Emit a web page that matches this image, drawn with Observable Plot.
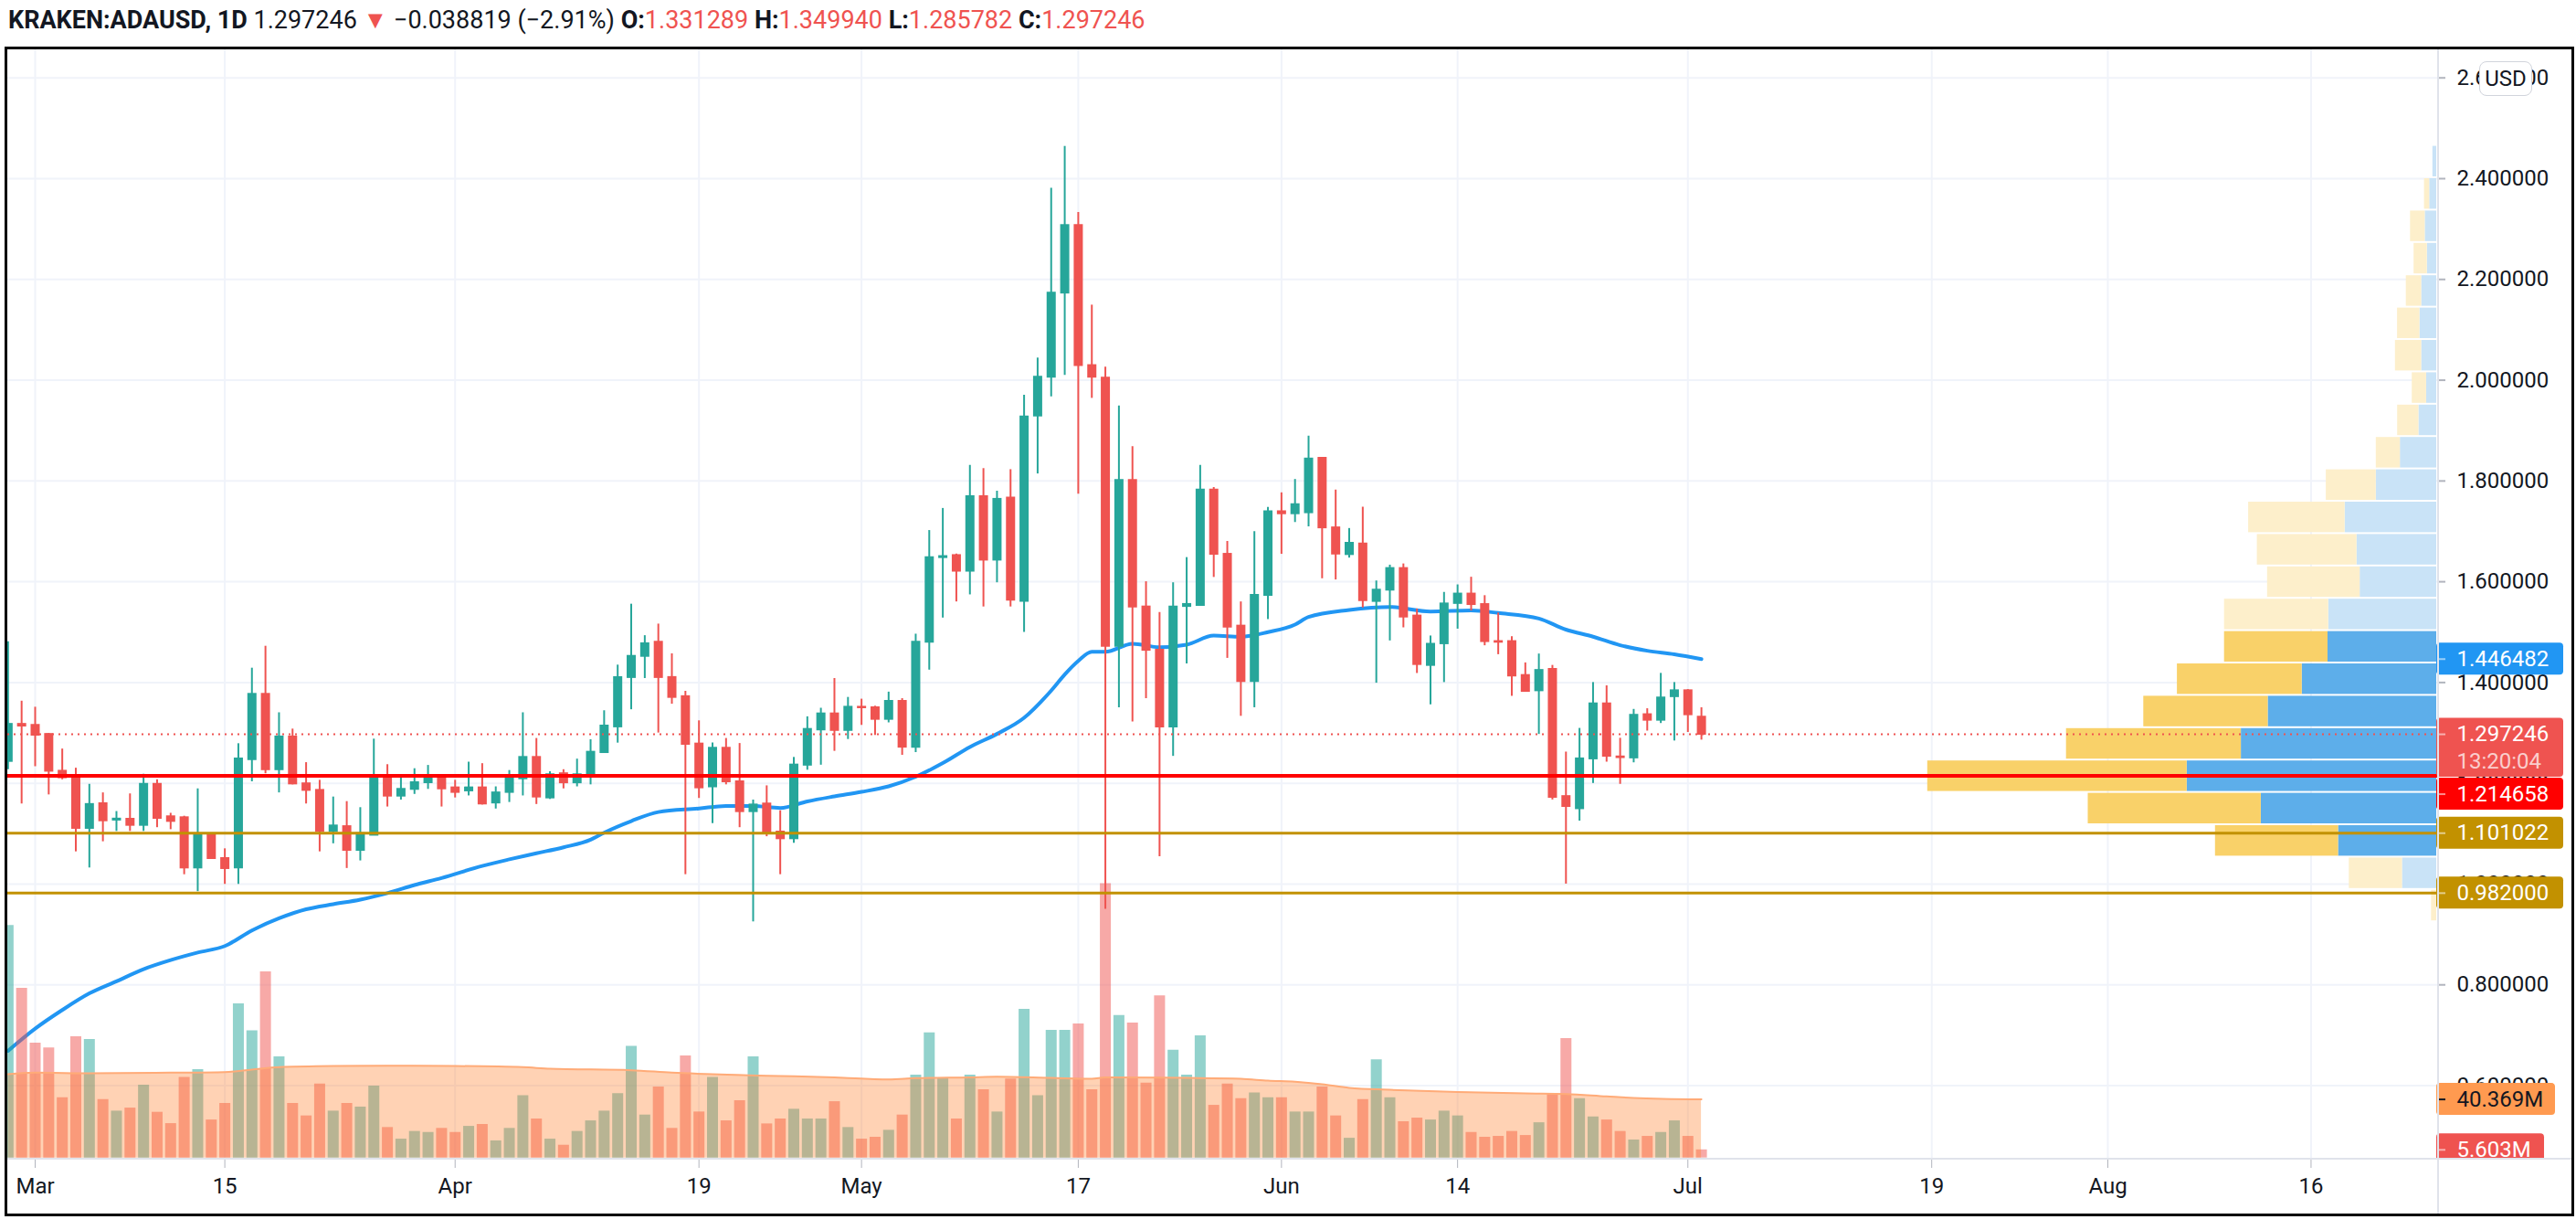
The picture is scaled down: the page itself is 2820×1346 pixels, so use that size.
<!DOCTYPE html>
<html><head><meta charset="utf-8">
<script src="https://cdn.jsdelivr.net/npm/d3@7"></script>
<script src="https://cdn.jsdelivr.net/npm/@observablehq/plot@0.6"></script>
<style>
html,body{margin:0;padding:0;background:#fff;width:2820px;height:1346px;overflow:hidden;}
body{font-family:Roboto,"Noto Sans",sans-serif;color:#131722;}
#header{position:absolute;left:9px;top:5px;font-size:27px;line-height:34px;white-space:nowrap;color:#131722}
#header b{font-weight:700}
#header .r{color:#ef5350}
#frame{position:absolute;left:5px;top:51px;width:2807px;height:1274px;border:3px solid #000;overflow:hidden;background:#fff}
#frame svg{position:absolute;left:0;top:0;background:transparent !important;overflow:hidden !important;max-width:none !important}
.sep{position:absolute;background:#e0e3eb}
#usd{position:absolute;left:2706px;top:13px;width:56px;height:36px;border:1.5px solid #d1d4dc;border-radius:8px;background:#fff;font-size:24px;line-height:36px;text-align:center;color:#131722}
</style></head><body>
<div id="header"></div>
<div id="frame"></div>
<script>
// ---------------- data ----------------
const symbol = "KRAKEN:ADAUSD";
const interval = "1D";
const startDate = "2021-02-27";
const open = [1.2435,1.317,
1.315,1.297,1.224,1.213,1.1106,1.1595,1.127,1.1287,1.1166,1.198,1.1336,1.1317,1.032,1.0984,1.0507,1.032,1.247,1.3766,1.227,1.292,1.199,1.186,1.1045,1.114,1.067,1.097,1.213,1.1746,1.188,1.2012,1.212,
1.191,1.185,1.191,1.161,1.182,1.209,1.2514,1.171,1.219,1.201,1.217,1.261,1.312,1.41,1.452,1.48,1.41,1.372,1.278,1.193,1.2696,1.203,1.1438,1.159,1.1033,1.09,1.236,1.306,1.3378,1.305,
1.351,1.350,1.327,1.3626,1.2717,1.480,1.648,1.652,1.621,1.769,1.643,1.766,1.561,1.929,2.006,2.173,2.307,2.029,2.004,1.4717,1.801,1.550,1.464,1.312,1.551,1.553,1.782,1.6545,1.512,1.402,1.573,
1.739,1.735,1.737,1.845,1.707,1.654,1.675,1.561,1.5834,1.6263,1.532,1.434,1.477,1.557,1.5756,1.5548,1.4813,1.4813,1.414,1.3837,1.426,1.1737,1.1496,1.2485,1.3577,1.2524,1.2504,1.3362,1.3252,1.372,
1.3837,1.331289];
const high = [1.481,1.363,
1.351,1.299,1.268,1.230,1.198,1.181,1.144,1.179,1.218,1.207,1.1405,1.1347,1.189,1.100,1.070,1.2786,1.4285,1.472,1.340,1.3076,1.241,1.206,1.1728,1.1637,1.1517,1.2877,1.237,1.216,1.229,1.2355,1.214,
1.206,1.242,1.239,1.193,1.2254,1.340,1.289,1.223,1.227,1.248,1.2865,1.344,1.4346,1.5555,1.493,1.516,1.457,1.3826,1.324,1.28,1.289,1.279,1.1668,1.195,1.1455,1.2514,1.332,1.349,1.408,1.3705,
1.367,1.353,1.381,1.368,1.496,1.7016,1.7455,1.655,1.831,1.8246,1.7797,1.8225,1.970,2.044,2.381,2.464,2.333,2.149,2.026,1.9487,1.868,1.600,1.539,1.598,1.648,1.831,1.787,1.680,1.560,1.6995,1.7476,
1.7765,1.803,1.889,1.846,1.782,1.7057,1.748,1.6016,1.633,1.6354,1.546,1.4924,1.5789,1.5938,1.609,1.5724,1.538,1.491,1.439,1.4566,1.434,1.262,1.309,1.4,1.3935,1.2894,1.3467,1.348,1.4182,1.4,
1.386,1.34994];
const low = [1.227,1.159,
1.233,1.177,1.207,1.064,1.032,1.084,1.1045,1.1045,1.1045,1.112,1.108,1.0186,0.985,1.0507,0.9994,0.9994,1.203,1.219,1.181,1.197,1.159,1.064,1.080,1.031,1.046,1.097,1.153,1.1668,1.178,1.188,1.153,
1.171,1.175,1.157,1.149,1.162,1.175,1.158,1.168,1.189,1.193,1.197,1.261,1.2798,1.346,1.408,1.2998,1.357,1.0187,1.170,1.120,1.197,1.112,0.925,1.094,1.0187,1.081,1.226,1.236,1.2635,1.287,
1.315,1.295,1.320,1.2556,1.261,1.4246,1.528,1.560,1.574,1.550,1.598,1.550,1.4995,1.814,1.967,2.0096,1.774,1.964,0.95,1.350,1.322,1.368,1.0545,1.2535,1.437,1.553,1.6086,1.448,1.333,1.350,1.525,
1.6545,1.7176,1.709,1.606,1.6036,1.647,1.548,1.3987,1.4826,1.5086,1.418,1.3558,1.4,1.506,1.542,1.473,1.4553,1.3727,1.382,1.297,1.167,1.0,1.125,1.1997,1.242,1.198,1.2407,1.3037,1.3187,1.284,
1.301,1.285782];
const close = [1.317,1.3137,
1.2955,1.224,1.211,1.1106,1.158,1.1256,1.129,1.1166,1.198,1.1305,1.1244,1.032,1.0984,1.0507,1.0308,1.2484,1.3766,1.227,1.292,1.1988,1.186,1.1045,1.1154,1.067,1.100,1.213,1.1746,1.188,1.2012,1.211,1.189,
1.182,1.191,1.159,1.181,1.209,1.2514,1.1728,1.217,1.201,1.217,1.2617,1.3137,1.4098,1.452,1.477,1.41,1.3705,1.2774,1.191,1.2696,1.203,1.1438,1.157,1.1033,1.09,1.2363,1.307,1.3378,1.305,1.351,
1.350,1.327,1.3626,1.2717,1.480,1.648,1.650,1.621,1.769,1.643,1.7636,1.5636,1.927,2.006,2.173,2.307,2.029,2.006,1.4717,1.801,1.550,1.464,1.312,1.550,1.555,1.782,1.6545,1.510,1.402,1.573,1.739,
1.735,1.753,1.8436,1.707,1.655,1.6764,1.5626,1.5834,1.6263,1.530,1.4358,1.476,1.556,1.5756,1.5548,1.4813,1.480,1.413,1.3824,1.424,1.1724,1.154,1.2485,1.3577,1.2537,1.251,1.335,1.3252,1.3694,1.3837,
1.336065,1.297246];
// volume, millions
const volume = [160.2,116.9,
79.1,75.8,41.6,83.5,81.7,40.3,32.3,34.4,50.2,31.5,23.7,55.6,60.9,26.2,37.6,106.2,87.7,128.3,69.7,37.6,29.0,51.0,32.3,37.6,35.1,49.5,21.0,13.0,18.3,17.6,20.4,
17.6,21.8,23.1,11.8,20.4,43.0,26.9,13.0,8.8,18.3,25.6,32.3,44.3,77.0,29.6,48.9,20.4,70.3,31.7,55.6,25.6,39.5,69.7,23.5,26.9,33.6,26.9,26.9,38.8,21.0,
13.0,14.3,19.1,29.6,57.1,86.3,54.8,26.9,57.1,47.0,31.7,54.4,102.4,43.0,88.0,88.0,92.4,47.0,189.0,98.2,93.0,51.6,111.7,74.3,57.1,84.2,36.3,51.0,40.9,44.9,41.6,
41.6,31.7,31.7,48.9,29.0,13.6,40.3,67.6,41.6,25.0,27.5,26.2,32.3,29.0,17.6,14.3,14.9,18.3,15.5,24.3,44.3,82.3,40.9,28.3,26.2,18.3,12.4,14.9,17.6,25.6,
14.9,5.603];
// moving average of price (blue line), read at sample dates
const maDates = ["2021-02-27","2021-03-01","2021-03-03","2021-03-05","2021-03-07","2021-03-09","2021-03-11","2021-03-13","2021-03-15","2021-03-17","2021-03-19","2021-03-21","2021-03-23","2021-03-25","2021-03-27","2021-03-29","2021-03-31","2021-04-03","2021-04-05","2021-04-07","2021-04-09","2021-04-11","2021-04-12","2021-04-14","2021-04-16","2021-04-19","2021-04-21","2021-04-23","2021-04-25","2021-04-27","2021-04-29","2021-05-01","2021-05-03","2021-05-05","2021-05-07","2021-05-09","2021-05-11","2021-05-13","2021-05-15","2021-05-16","2021-05-17","2021-05-18","2021-05-19","2021-05-21","2021-05-23","2021-05-25","2021-05-27","2021-05-29","2021-05-31","2021-06-02","2021-06-03","2021-06-06","2021-06-09","2021-06-12","2021-06-15","2021-06-17","2021-06-20","2021-06-22","2021-06-24","2021-06-26","2021-06-28","2021-06-30","2021-07-02"];
const maValues = [0.669,0.713,0.750,0.783,0.807,0.831,0.849,0.864,0.877,0.908,0.932,0.950,0.960,0.969,0.982,0.998,1.012,1.036,1.049,1.061,1.073,1.088,1.102,1.125,1.143,1.150,1.155,1.155,1.151,1.164,1.174,1.183,1.194,1.213,1.240,1.272,1.298,1.330,1.384,1.416,1.443,1.461,1.461,1.477,1.470,1.475,1.493,1.491,1.500,1.515,1.530,1.544,1.550,1.541,1.543,1.538,1.527,1.505,1.491,1.474,1.463,1.456,1.446482];
// moving average of volume (orange area), millions
const volMaDates = ["2021-02-27","2021-03-01","2021-03-05","2021-03-11","2021-03-15","2021-03-17","2021-03-19","2021-03-23","2021-03-27","2021-04-01","2021-04-06","2021-04-08","2021-04-14","2021-04-17","2021-04-20","2021-04-24","2021-04-29","2021-05-03","2021-05-05","2021-05-09","2021-05-11","2021-05-15","2021-05-18","2021-05-19","2021-05-25","2021-05-29","2021-05-31","2021-06-02","2021-06-04","2021-06-06","2021-06-09","2021-06-14","2021-06-19","2021-06-22","2021-06-25","2021-06-27","2021-07-02"];
const volMaValues = [57.7,58.8,58.4,58.8,59.2,60.9,62.6,63.4,63.6,63.4,62.6,61.5,60.5,58.8,57.7,56.7,55.6,54.2,55.0,55.6,56.0,55.2,54.6,55.6,55.2,54.6,53.3,52.5,50.8,48.3,47.0,45.5,44.5,44.1,42.4,41.4,40.369];
// horizontal levels
const resistance = 1.214658;
const supports = [1.101022, 0.982000];
const countdown = "13:20:04";
// axes
const timeTicks = ["2021-03-01","2021-03-15","2021-04-01","2021-04-19","2021-05-01","2021-05-17","2021-06-01","2021-06-14","2021-07-01","2021-07-19","2021-08-01","2021-08-16"];
const timeLabels = ["Mar","15","Apr","19","May","17","Jun","14","Jul","19","Aug","16"];
const priceTicks = [0.6,0.8,1.0,1.2,1.4,1.6,1.8,2.0,2.2,2.4,2.6];
// visible range volume profile (row lower bounds, up & down volume)
const profileTop = 2.466;
const profileLow = [2.4018,2.3376,2.2734,2.2092,2.1450,2.0808,2.0166,1.9524,1.8882,1.8240,1.7598,1.6956,1.6314,1.5672,1.5030,1.4388,1.3746,1.3104,1.2462,1.1820,1.1178,1.0536,0.9894,0.9252];
const profileUp   = [4.2,7.7,12.6,10.3,16.5,18.4,16.5,11.1,19.5,39.8,66.2,100.3,87.3,83.8,118.3,119.0,147.3,184.5,213.9,273.2,192.1,107.5,37.5,0];
const profileDown = [0,5.7,16.1,14.5,16.8,24.5,28.7,15.7,23.3,26.4,54.7,105.6,109.1,101.4,114.0,113.3,136.6,136.2,191.4,284.0,189.4,134.7,58.2,5.7];
const valueArea = [1.0536, 1.503];

// ---------------- build ----------------
const UP = "#26a69a", DOWN = "#ef5350";
const candles = open.map((o, i) => ({date: d3.utcDay.offset(new Date(startDate), i), open: o, high: high[i], low: low[i], close: close[i], volume: volume[i]}));
const colorOf = d => d.close >= d.open ? UP : DOWN;
const maData = maDates.map((d, i) => ({date: new Date(d), value: maValues[i]}));
const volMaData = volMaDates.map((d, i) => ({date: new Date(d), value: volMaValues[i]}));
const tickDates = timeTicks.map(d => new Date(d));
const labelMap = new Map(tickDates.map((d, i) => [+d, timeLabels[i]]));
const profile = profileLow.map((lo, i) => {
  const hi = i === 0 ? profileTop : profileLow[i - 1];
  return {lo, hi, up: profileUp[i], down: profileDown[i], va: lo >= valueArea[0] - 1e-6 && hi <= valueArea[1] + 1e-6};
});

const W = 2807, H = 1274, PANE = 1214, AXIS = 2659;
const font = "Roboto, 'Noto Sans', sans-serif";
const dayPx = 14.83;
const xTime = {type: "utc", domain: [new Date("2021-03-01"), new Date("2021-08-16")], range: [30, 30 + 168 * dayPx]};
const yPrice = {domain: [0.6, 2.4], range: [1133.5, 141]};
const volBase = 1212.7, volPxPerM = 1.588;
const yVol = {domain: [0, 100], range: [volBase, volBase - 100 * volPxPerM]};
const baseStyle = {background: "transparent", fontFamily: font, fontSize: "24px", color: "#131722"};
const frame = document.getElementById("frame");
const add = el => frame.appendChild(el);

// header
const last = candles[candles.length - 1], prev = candles[candles.length - 2];
const chg = last.close - prev.close, pct = chg / prev.close * 100;
const f6 = v => v.toFixed(6);
document.getElementById("header").innerHTML =
  `<b>${symbol}, ${interval}</b> ${f6(last.close)} <span class="r">${chg < 0 ? "\u25BC" : "\u25B2"}</span> ${chg < 0 ? "\u2212" : "+"}${f6(Math.abs(chg))} (${pct < 0 ? "\u2212" : "+"}${Math.abs(pct).toFixed(2)}%) ` +
  `<b>O:</b><span class="r">${f6(last.open)}</span> <b>H:</b><span class="r">${f6(last.high)}</span> <b>L:</b><span class="r">${f6(last.low)}</span> <b>C:</b><span class="r">${f6(last.close)}</span>`;

// layer 1: grid, time axis, MA, candles
add(Plot.plot({
  width: W, height: H, marginTop: 0, marginLeft: 0, marginRight: W - 2660, marginBottom: H - PANE,
  style: baseStyle,
  x: xTime, y: {...yPrice, axis: null},
  marks: [
    Plot.ruleY(priceTicks, {stroke: "#f0f3fa", strokeWidth: 2}),
    Plot.ruleX(tickDates, {stroke: "#f0f3fa", strokeWidth: 2}),
    Plot.axisX({ticks: tickDates, tickFormat: d => labelMap.get(+d), tickSize: 10, tickPadding: 10, stroke: "#b2b5be", fill: "#131722", fontSize: 24, label: null, anchor: "bottom"}),
    Plot.line(maData, {x: "date", y: "value", stroke: "#2196f3", strokeWidth: 4, curve: "monotone-x"}),
    Plot.ruleX(candles, {x: "date", y1: "low", y2: "high", stroke: colorOf, strokeWidth: 2}),
    Plot.ruleX(candles, {x: "date", y1: d => Math.max(d.open, d.close), y2: d => Math.min(d.open, d.close), insetTop: -1, insetBottom: -1, stroke: colorOf, strokeWidth: 10})
  ]
}));

// layer 2: volume
add(Plot.plot({
  width: W, height: H, marginTop: 0, marginLeft: 0, marginRight: W - 2660, marginBottom: H - PANE,
  style: baseStyle,
  x: {...xTime, axis: null}, y: {...yVol, axis: null},
  marks: [
    Plot.ruleX(candles, {x: "date", y1: 0, y2: "volume", stroke: colorOf, strokeOpacity: 0.5, strokeWidth: 12}),
    Plot.areaY(volMaData, {x: "date", y: "value", fill: "#ff7f27", fillOpacity: 0.35, curve: "monotone-x"}),
    Plot.line(volMaData, {x: "date", y: "value", stroke: "#ffab78", strokeWidth: 2, curve: "monotone-x"})
  ]
}));

// layer 3: volume profile + levels
add(Plot.plot({
  width: W, height: H, marginTop: 0, marginLeft: 0, marginRight: W - 2660, marginBottom: H - PANE,
  style: baseStyle,
  x: {domain: [0, 600], range: [AXIS, AXIS - 600], axis: null}, y: {...yPrice, axis: null},
  marks: [
    Plot.rect(profile, {x1: 0, x2: "up", y1: "lo", y2: "hi", insetTop: 1, insetBottom: 1, fill: d => d.va ? "#5daeea" : "#c9e3f7"}),
    Plot.rect(profile, {x1: "up", x2: d => d.up + d.down, y1: "lo", y2: "hi", insetTop: 1, insetBottom: 1, fill: d => d.va ? "#f9d169" : "#fdefcb"}),
    Plot.ruleY([last.close], {stroke: "#ef5350", strokeWidth: 2, strokeDasharray: "2 5"}),
    Plot.ruleY([resistance], {stroke: "#ff0000", strokeWidth: 4}),
    Plot.ruleY(supports, {stroke: "#c29100", strokeWidth: 3})
  ]
}));

// layer 4: price scale labels
const yPix = d3.scaleLinear(yPrice.domain, yPrice.range);
const boxes = [
  {value: maValues[maValues.length - 1], lines: [f6(maValues[maValues.length - 1])], fill: "#2196f3", text: "#fff", above: 17.5, below: 17.5},
  {value: last.close, lines: [f6(last.close), countdown], fill: "#ef5350", text: "#fff", above: 17.5, below: 47},
  {value: resistance, lines: [f6(resistance)], fill: "#ff0000", text: "#fff", above: 17.5, below: 17.5},
  ...supports.map(v => ({value: v, lines: [f6(v)], fill: "#c29100", text: "#fff", above: 17.5, below: 17.5}))
].sort((a, b) => b.value - a.value);
let prevBottom = -Infinity;
for (const b of boxes) {
  const py = yPix(b.value);
  b.shift = Math.max(0, prevBottom + 1 - (py - b.above));
  prevBottom = py + b.shift + b.below;
}
const labelMarks = [
  Plot.ruleY(priceTicks, {stroke: "#b2b5be", strokeWidth: 2, insetLeft: 2, insetRight: 129}),
  Plot.text(priceTicks, {y: d => d, text: d => f6(d), frameAnchor: "left", dx: 22, textAnchor: "start", fill: "#131722", fontSize: 24})
];
for (const b of boxes) {
  labelMarks.push(
    Plot.rect([b.value], {y1: d => d, y2: d => d, insetTop: -b.above, insetBottom: -b.below, dy: b.shift, fill: b.fill, rx: 4}),
    Plot.ruleY([b.value], {dy: b.shift, stroke: "rgba(255,255,255,0.55)", strokeWidth: 2, insetLeft: 2, insetRight: 129}),
    Plot.text([b.value], {y: d => d, text: () => b.lines[0], frameAnchor: "left", dx: 22, dy: b.shift, textAnchor: "start", fill: b.text, fontSize: 24})
  );
  if (b.lines[1]) labelMarks.push(Plot.text([b.value], {y: d => d, text: () => b.lines[1], frameAnchor: "left", dx: 22, dy: b.shift + 30, textAnchor: "start", fill: "rgba(255,255,255,0.72)", fontSize: 24}));
}
add(Plot.plot({
  width: W, height: H, marginTop: 0, marginLeft: AXIS, marginRight: W - 2798, marginBottom: H - PANE,
  style: baseStyle, y: {...yPrice, axis: null}, marks: labelMarks
}));

// layer 5: volume scale labels
const volLast = volume[volume.length - 1], volMaLast = volMaValues[volMaValues.length - 1];
add(Plot.plot({
  width: W, height: PANE + 1, marginTop: 0, marginLeft: AXIS, marginRight: W - 2798, marginBottom: 0,
  style: baseStyle, y: {...yVol, axis: null},
  marks: [
    Plot.rect([volMaLast], {y1: d => d, y2: d => d, insetTop: -17.5, insetBottom: -17.5, insetRight: 9, fill: "#ff9a50", rx: 4}),
    Plot.ruleY([volMaLast], {stroke: "#131722", strokeWidth: 2, insetLeft: 2, insetRight: 129}),
    Plot.text([volMaLast], {y: d => d, text: d => d.toFixed(3) + "M", frameAnchor: "left", dx: 22, textAnchor: "start", fill: "#131722", fontSize: 24}),
    Plot.rect([volLast], {y1: d => d, y2: d => d, insetTop: -17.5, insetBottom: -17.5, insetRight: 21, fill: "#ef5350", rx: 4}),
    Plot.ruleY([volLast], {stroke: "rgba(255,255,255,0.55)", strokeWidth: 2, insetLeft: 2, insetRight: 129}),
    Plot.text([volLast], {y: d => d, text: d => d.toFixed(3) + "M", frameAnchor: "left", dx: 22, textAnchor: "start", fill: "#fff", fontSize: 24})
  ]
}));

// separators and currency badge
const sepV = document.createElement("div"); sepV.className = "sep"; sepV.style.cssText = "left:2660px;top:0;width:2px;height:1274px"; add(sepV);
const sepH = document.createElement("div"); sepH.className = "sep"; sepH.style.cssText = "left:0;top:1213px;width:2807px;height:2px"; add(sepH);
const usd = document.createElement("div"); usd.id = "usd"; usd.textContent = "USD"; add(usd);
</script>
</body></html>
